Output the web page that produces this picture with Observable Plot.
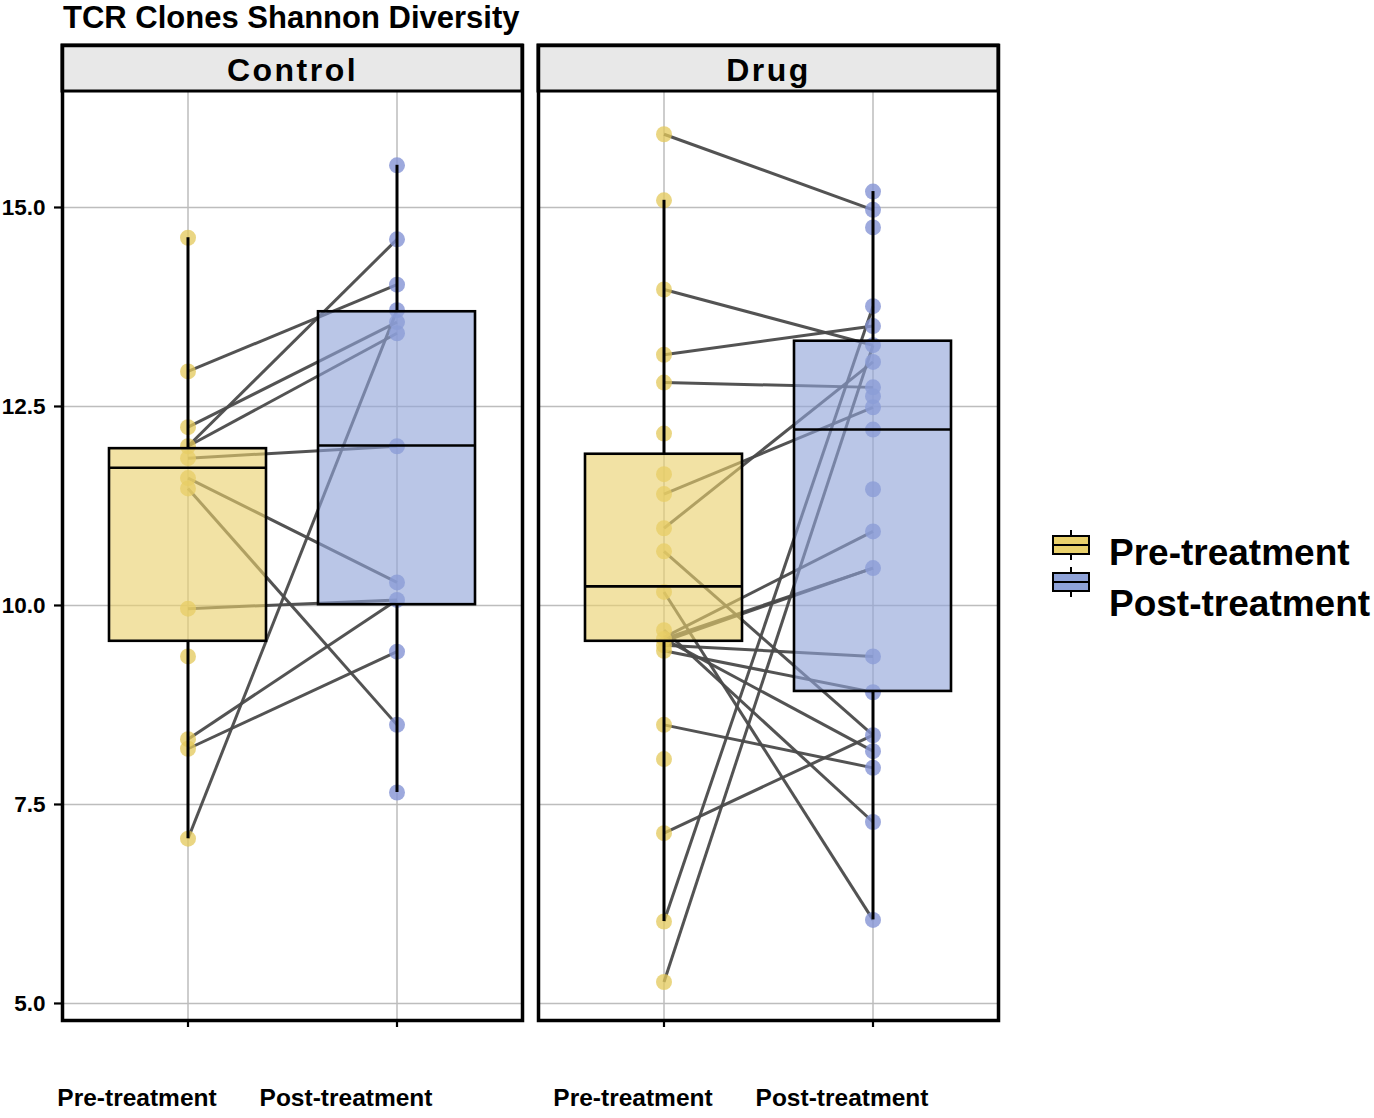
<!DOCTYPE html>
<html><head><meta charset="utf-8">
<script src="https://cdn.jsdelivr.net/npm/d3@7"></script>
<script src="https://cdn.jsdelivr.net/npm/@observablehq/plot@0.6"></script>
<style>
body{margin:0;background:#fff;font-family:"Liberation Sans",Arial,Helvetica,sans-serif;}
#wrap{position:relative;width:1374px;height:1118px;overflow:hidden;}
#title{position:absolute;left:63px;top:1px;font-size:31px;line-height:34px;font-weight:bold;color:#000;white-space:nowrap;}
#chart{position:absolute;left:0;top:36px;}
#legend{position:absolute;left:1048px;top:524px;}
.lg-text{position:absolute;font-size:37px;font-weight:bold;white-space:nowrap;color:#000;}
</style></head><body>
<div id="wrap">
  <div id="title">TCR Clones Shannon Diversity</div>
  <div id="chart"></div>
  <div id="legend"></div>
</div>
<script>
// ---- data ----
const groups = ["Control", "Drug"];
const times = ["Pre-treatment", "Post-treatment"];
const yTicks = [5, 7.5, 10, 12.5, 15];

const controlPre  = [14.62, 12.94, 12.24, 12.00, 11.85, 11.60, 11.47, 9.96, 9.36, 8.32, 8.20, 7.07];
const controlPost = [15.53, 14.60, 14.03, 13.71, 13.56, 13.42, 12.00, 10.29, 10.07, 9.42, 8.50, 7.65];
const drugPre  = [15.92, 15.09, 13.97, 13.15, 12.80, 12.16, 11.65, 11.40, 10.97, 10.68, 10.17, 9.69, 9.58, 9.50, 9.43, 8.50, 8.07, 7.14, 6.03, 5.27];
const drugPost = [15.20, 14.97, 14.75, 13.76, 13.51, 13.27, 13.06, 12.74, 12.63, 12.49, 12.21, 11.46, 10.93, 10.47, 9.36, 8.91, 8.37, 8.17, 7.96, 7.28, 6.05];

// paired lines: pre value -> post value
const controlLinkPre  = [12.94, 12.24, 12.00, 12.00, 11.85, 11.60, 11.47, 9.96, 8.32, 8.20, 7.07];
const controlLinkPost = [14.03, 13.56, 14.60, 13.42, 12.00, 10.29, 8.50, 10.07, 10.07, 9.42, 13.71];
const drugLinkPre  = [15.92, 13.97, 13.15, 12.80, 11.40, 10.97, 10.68, 10.17, 9.69, 9.60, 9.58, 9.55, 9.50, 9.43, 9.58, 8.50, 7.14, 6.03, 5.27];
const drugLinkPost = [14.97, 13.27, 13.51, 12.74, 12.49, 13.06, 8.37, 6.05, 7.28, 10.93, 10.47, 10.47, 9.36, 8.91, 8.17, 7.96, 8.37, 13.76, 13.27];

// box statistics
const boxGroup  = ["Control", "Control", "Drug", "Drug"];
const boxTime   = ["Pre-treatment", "Post-treatment", "Pre-treatment", "Post-treatment"];
const boxLow    = [7.07, 7.65, 6.03, 6.05];
const boxQ1     = [9.55, 10.01, 9.55, 8.92];
const boxMedian = [11.73, 12.01, 10.24, 12.21];
const boxQ3     = [11.97, 13.69, 11.90, 13.32];
const boxHigh   = [14.62, 15.53, 15.09, 15.20];

// ---- styling / layout constants ----
const preColor = "#EAD16C", postColor = "#8FA3D9";
const prePoint = "#E3C859", postPoint = "#8494D4";
const yMin = 4.786, yPanelTop = 16.457, yStripTop = 17.035;
const fmt = d3.format(".1f");

// ---- build tables ----
const rows = (group, time, vals) => vals.map(v => ({group, time, value: v}));
const points = [
  ...rows("Control", "Pre-treatment", controlPre),
  ...rows("Control", "Post-treatment", controlPost),
  ...rows("Drug", "Pre-treatment", drugPre),
  ...rows("Drug", "Post-treatment", drugPost)
];
const links = [
  ...controlLinkPre.map((v, i) => ({group: "Control", pre: v, post: controlLinkPost[i]})),
  ...drugLinkPre.map((v, i) => ({group: "Drug", pre: v, post: drugLinkPost[i]}))
];
const boxes = boxGroup.map((g, i) => ({group: g, time: boxTime[i], low: boxLow[i], q1: boxQ1[i], median: boxMedian[i], q3: boxQ3[i], high: boxHigh[i]}));
const gridX = groups.flatMap(g => times.map(t => ({group: g, time: t})));
const gridY = groups.flatMap(g => yTicks.map(v => ({group: g, value: v})));
const labelsControl = times.map(t => ({group: "Control", time: t}));
const labelsDrug = times.map(t => ({group: "Drug", time: t}));

const isPre = d => d.time === "Pre-treatment";
const isPost = d => d.time === "Post-treatment";

const chart = Plot.plot({
  width: 1010,
  height: 1082,
  marginLeft: 61,
  marginRight: 11,
  marginTop: 9,
  marginBottom: 98,
  style: {fontFamily: "'Liberation Sans', Arial, sans-serif", fontSize: "22px", fontWeight: "bold", color: "#000", background: "#fff"},
  fx: {domain: groups, axis: null, label: null, paddingInner: 0.0335, paddingOuter: 0},
  x: {domain: times, type: "band", paddingInner: 0.25, paddingOuter: 0.225, tickSize: 7, tickFormat: () => "", label: null},
  y: {domain: [yMin, yStripTop], ticks: yTicks, tickFormat: fmt, tickSize: 8, tickPadding: 9, label: null},
  marks: [
    Plot.ruleY(gridY, {fx: "group", y: "value", stroke: "#bdbdbd", strokeWidth: 1.5}),
    Plot.ruleX(gridX, {fx: "group", x: "time", y1: () => yMin, y2: () => yPanelTop, stroke: "#bdbdbd", strokeWidth: 1.5}),
    Plot.link(links, {fx: "group", x1: () => "Pre-treatment", x2: () => "Post-treatment", y1: "pre", y2: "post", stroke: "#4a4a4a", strokeWidth: 3, strokeOpacity: 0.95}),
    Plot.dot(points.filter(isPre), {fx: "group", x: "time", y: "value", r: 8, fill: prePoint, fillOpacity: 0.75, stroke: "none"}),
    Plot.dot(points.filter(isPost), {fx: "group", x: "time", y: "value", r: 8, fill: postPoint, fillOpacity: 0.8, stroke: "none"}),
    Plot.ruleX(boxes, {fx: "group", x: "time", y1: "low", y2: "q1", stroke: "#000", strokeWidth: 3}),
    Plot.ruleX(boxes, {fx: "group", x: "time", y1: "q3", y2: "high", stroke: "#000", strokeWidth: 3}),
    Plot.barY(boxes.filter(isPre), {fx: "group", x: "time", y1: "q1", y2: "q3", fill: preColor, fillOpacity: 0.62, stroke: "#000", strokeWidth: 2.6}),
    Plot.barY(boxes.filter(isPost), {fx: "group", x: "time", y1: "q1", y2: "q3", fill: postColor, fillOpacity: 0.62, stroke: "#000", strokeWidth: 2.6}),
    Plot.tickY(boxes, {fx: "group", x: "time", y: "median", stroke: "#000", strokeWidth: 2.6}),
    Plot.rect(groups, {fx: d => d, y1: () => yPanelTop, y2: () => yStripTop, fill: "#e8e8e8", stroke: "#000", strokeWidth: 3}),
    Plot.text(groups, {fx: d => d, text: d => d, frameAnchor: "top", lineAnchor: "middle", dy: 25, fontSize: 32, fontWeight: "bold", fill: "#000"}),
    Plot.frame({stroke: "#000", strokeWidth: 3.5}),
    Plot.text(labelsControl, {fx: "group", x: "time", text: "time", frameAnchor: "bottom", lineAnchor: "middle", dy: 78, dx: -51, fontSize: 24.5, fontWeight: "bold", fill: "#000"}),
    Plot.text(labelsDrug, {fx: "group", x: "time", text: "time", frameAnchor: "bottom", lineAnchor: "middle", dy: 78, dx: -31, fontSize: 24.5, fontWeight: "bold", fill: "#000"})
  ]
});
document.getElementById("chart").appendChild(chart);

// post-process: letter spacing of strip labels, axis fonts and thicker ticks
const svg = d3.select(chart);
svg.selectAll("text").filter(function() { return groups.includes(this.textContent); })
  .attr("letter-spacing", "2.5px");
const tickTexts = yTicks.map(fmt);
svg.selectAll("text").filter(function() { return tickTexts.includes(this.textContent.trim()); })
  .attr("font-size", 22.5).style("font-size", "22.5px").attr("font-weight", "bold");
svg.selectAll("[aria-label='y-axis'] line, [aria-label='y-axis'] path, [aria-label='y-axis tick'] path, [aria-label='x-axis'] line, [aria-label='x-axis'] path, [aria-label='x-axis tick'] path")
  .attr("stroke-width", 2.2).attr("stroke", "#000");

// ---- legend (HTML, right of the chart) ----
const legend = d3.select("#legend");
const keys = legend.append("svg").attr("width", 50).attr("height", 80).style("position", "absolute").style("left", "0px").style("top", "0px");
[[preColor, 12], [postColor, 49]].forEach(([c, top]) => {
  keys.append("line").attr("x1", 23).attr("x2", 23).attr("y1", top - 6).attr("y2", top + 24).attr("stroke", "#000").attr("stroke-width", 2);
  keys.append("rect").attr("x", 5).attr("y", top).attr("width", 36).attr("height", 18).attr("fill", c).attr("stroke", "#000").attr("stroke-width", 2);
  keys.append("line").attr("x1", 5).attr("x2", 41).attr("y1", top + 9).attr("y2", top + 9).attr("stroke", "#000").attr("stroke-width", 2);
});
legend.append("div").attr("class", "lg-text").style("left", "61px").style("top", "8px").text(times[0]);
legend.append("div").attr("class", "lg-text").style("left", "61px").style("top", "59px").text(times[1]);
</script>
</body></html>
